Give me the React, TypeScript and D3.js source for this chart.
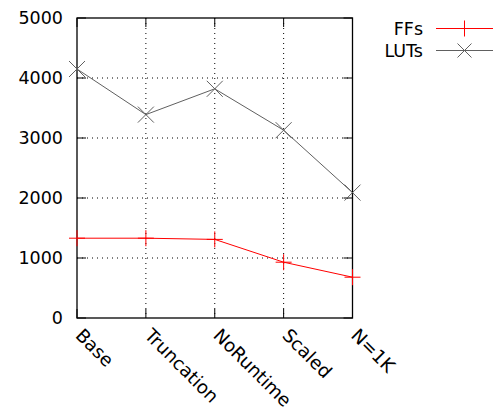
import React from "react";
import * as d3 from "d3";

const categories = ["Base", "Truncation", "NoRuntime", "Scaled", "N=1K"];
const ffs = [1330, 1330, 1310, 930, 680];
const luts = [4150, 3390, 3820, 3130, 2090];
const yTicks = [0, 1000, 2000, 3000, 4000, 5000];

const W = 497, H = 412;
const L = 77, R = 352.5, T = 18, B = 318;
const FONT = "DejaVu Sans, sans-serif";
const FS = 17.5;
const FSX = 18.3;

export default function App() {
  const x = d3.scalePoint<string>().domain(categories).range([L, R]);
  const y = d3.scaleLinear().domain([0, 5000]).range([B, T]);
  const line = d3.line<number>().x((_, i) => x(categories[i])!).y((d) => y(d));
  const plus = (cx: number, cy: number, s: number, c: string, k: string) => (
    <g key={k} stroke={c} strokeWidth={1}>
      <line x1={cx - s} x2={cx + s} y1={cy} y2={cy} />
      <line x1={cx} x2={cx} y1={cy - s} y2={cy + s} />
    </g>
  );
  const cross = (cx: number, cy: number, s: number, c: string, k: string) => (
    <g key={k} stroke={c} strokeWidth={1}>
      <line x1={cx - s} x2={cx + s} y1={cy - s} y2={cy + s} />
      <line x1={cx - s} x2={cx + s} y1={cy + s} y2={cy - s} />
    </g>
  );
  const red = "#ff0000";
  const gray = "#606060";
  return (
    <svg width={W} height={H} style={{ position: "absolute", left: 0, top: 0, background: "#fff" }}>
      <rect width={W} height={H} fill="#fff" />
      {yTicks.slice(1, -1).map((t) => (
        <line key={"gy" + t} x1={L} x2={R} y1={y(t)} y2={y(t)} stroke="#000" strokeWidth={1} strokeDasharray="1,4" />
      ))}
      {categories.slice(1, -1).map((c) => (
        <line key={"gx" + c} x1={x(c)} x2={x(c)} y1={T} y2={B} stroke="#000" strokeWidth={1} strokeDasharray="1,4" />
      ))}
      {yTicks.map((t) => (
        <g key={"ty" + t}>
          <line x1={L} x2={L + 9} y1={y(t)} y2={y(t)} stroke="#000" />
          <line x1={R} x2={R - 9} y1={y(t)} y2={y(t)} stroke="#000" />
          <text x={L - 14} y={y(t)} dy="0.36em" textAnchor="end" fontFamily={FONT} fontSize={FS} fill="#000">
            {t}
          </text>
        </g>
      ))}
      {categories.map((c) => (
        <g key={"tx" + c}>
          <line x1={x(c)} x2={x(c)} y1={B} y2={B - 9} stroke="#000" />
          <line x1={x(c)} x2={x(c)} y1={T} y2={T + 9} stroke="#000" />
          <text
            transform={`translate(${x(c)! - 2.5},${B + 18.5}) rotate(45)`}
            textAnchor="start"
            fontFamily={FONT}
            fontSize={FSX}
            fill="#000"
          >
            {c}
          </text>
        </g>
      ))}
      <rect x={L} y={T} width={R - L} height={B - T} fill="none" stroke="#000" strokeWidth={1.3} />
      <path d={line(luts)!} fill="none" stroke={gray} strokeWidth={1} />
      {luts.map((v, i) => cross(x(categories[i])!, y(v), 8, gray, "lc" + i))}
      <path d={line(ffs)!} fill="none" stroke={red} strokeWidth={1} />
      {ffs.map((v, i) => plus(x(categories[i])!, y(v), 8, red, "fp" + i))}
      <text x={423} y={28.5} dy="0.36em" textAnchor="end" fontFamily={FONT} fontSize={FS} fill="#000">FFs</text>
      <line x1={436} x2={493} y1={28.5} y2={28.5} stroke={red} />
      {plus(464.5, 28.5, 8, red, "lp")}
      <text x={423} y={50.5} dy="0.36em" textAnchor="end" fontFamily={FONT} fontSize={FS} fill="#000">LUTs</text>
      <line x1={436} x2={493} y1={50.5} y2={50.5} stroke={gray} />
      {cross(464.5, 50.5, 7, gray, "lx")}
    </svg>
  );
}
